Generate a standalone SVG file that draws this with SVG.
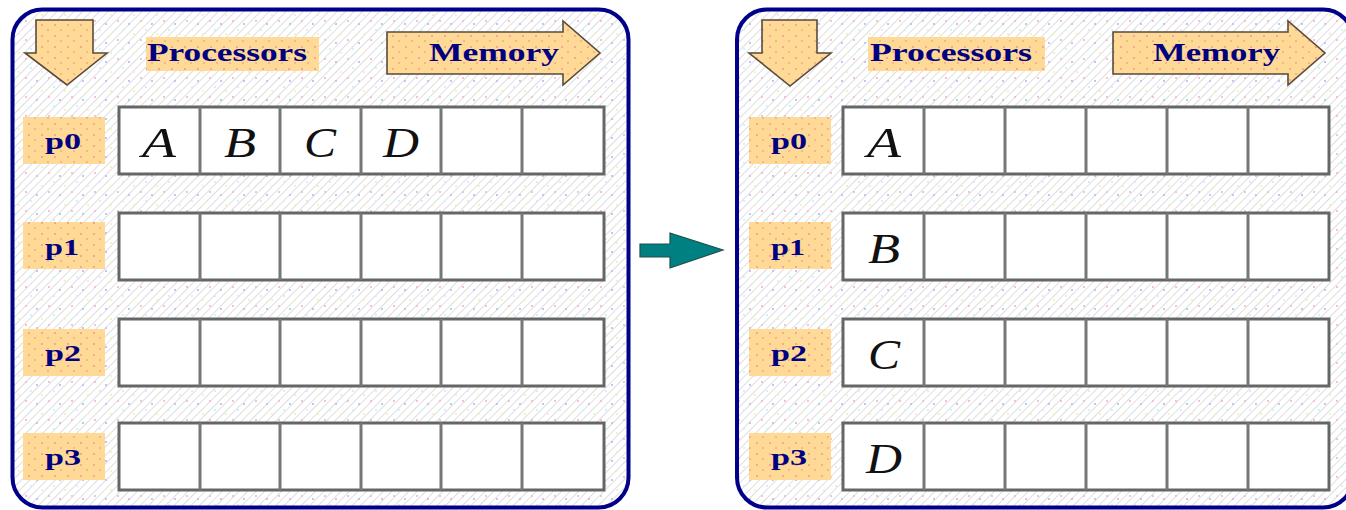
<svg xmlns="http://www.w3.org/2000/svg" width="1346" height="510" viewBox="0 0 1346 510">
<defs>
<pattern id="hatch" width="6" height="6" patternUnits="userSpaceOnUse" patternTransform="rotate(45)">
<rect width="6" height="6" fill="#ffffff"/>
<line x1="0" y1="0" x2="0" y2="6" stroke="#d4d4d4" stroke-width="1.5"/>
</pattern>
<pattern id="dots" width="23" height="19" patternUnits="userSpaceOnUse">
<rect x="2" y="1" width="2" height="2" fill="#f8c0d0"/>
<rect x="13" y="4" width="2" height="2" fill="#c4c4f8"/>
<rect x="7" y="10" width="2" height="2" fill="#ccf6f6"/>
<rect x="18" y="14" width="2" height="2" fill="#f6f2c0"/>
</pattern>
<pattern id="orange" width="13" height="11" patternUnits="userSpaceOnUse">
<rect width="13" height="11" fill="#ffd996"/>
<rect x="2" y="2" width="2" height="2" fill="#f8a892"/>
<rect x="8" y="7" width="2" height="2" fill="#f8b48a"/>
</pattern>
<style>
.panel{stroke:#00008a;stroke-width:4}
.orng{fill:url(#orange)}
.arrow{fill:url(#orange);stroke:#5a4a3c;stroke-width:1.6}
.lbl{font-family:"Liberation Serif",serif;font-weight:bold;font-size:25px;fill:#000080}
.plbl{font-family:"Liberation Serif",serif;font-weight:bold;font-size:24px;fill:#000080}
.cell{fill:#ffffff;stroke:#666666;stroke-width:3}
.div{stroke:#777777;stroke-width:3}
.let{font-family:"Liberation Serif",serif;font-style:italic;font-size:42px;fill:#111111;text-anchor:middle}
</style>
</defs>

<g id="panel-left">
<rect x="12.5" y="9.5" width="616" height="498" rx="30" fill="url(#hatch)"/>
<rect x="12.5" y="9.5" width="616" height="498" rx="30" fill="url(#dots)" class="panel"/>
</g>
<g id="panel-right">
<rect x="737" y="9.5" width="616" height="498" rx="30" fill="url(#hatch)"/>
<rect x="737" y="9.5" width="616" height="498" rx="30" fill="url(#dots)" class="panel"/>
</g>

<!-- Left panel contents -->
<g id="left-down-arrow"><path class="arrow" d="M36,20 H93 V53 H107 L67,85 L25,53 H36 Z"/></g>
<g id="left-processors"><rect class="orng" x="146" y="37" width="173" height="34"/><text class="lbl" x="147" y="61" textLength="160" lengthAdjust="spacingAndGlyphs">Processors</text></g>
<g id="left-memory"><path class="arrow" d="M387,32 H563 V21 L600,53 L563,85 V74 H387 Z"/><text class="lbl" x="429" y="61" textLength="130" lengthAdjust="spacingAndGlyphs">Memory</text></g>

<g id="left-p0"><rect class="orng" x="23" y="117" width="82" height="47"/><text class="plbl" x="45" y="149" textLength="36" lengthAdjust="spacingAndGlyphs">p0</text></g>
<g id="left-p1"><rect class="orng" x="23" y="222" width="82" height="47"/><text class="plbl" x="45" y="255" textLength="34" lengthAdjust="spacingAndGlyphs">p1</text></g>
<g id="left-p2"><rect class="orng" x="23" y="329" width="82" height="47"/><text class="plbl" x="45" y="361" textLength="36" lengthAdjust="spacingAndGlyphs">p2</text></g>
<g id="left-p3"><rect class="orng" x="23" y="433" width="82" height="47"/><text class="plbl" x="45" y="465" textLength="36" lengthAdjust="spacingAndGlyphs">p3</text></g>

<g id="left-row0"><rect class="cell" x="119" y="107" width="485" height="67"/><path class="div" d="M200,107V174M280,107V174M361,107V174M441,107V174M522,107V174"/>
<text class="let" x="159" y="157" textLength="34" lengthAdjust="spacingAndGlyphs">A</text>
<text class="let" x="240" y="157" textLength="32" lengthAdjust="spacingAndGlyphs">B</text>
<text class="let" x="320" y="157" textLength="32" lengthAdjust="spacingAndGlyphs">C</text>
<text class="let" x="401" y="157" textLength="36" lengthAdjust="spacingAndGlyphs">D</text></g>
<g id="left-row1"><rect class="cell" x="119" y="213" width="485" height="67"/><path class="div" d="M200,213V280M280,213V280M361,213V280M441,213V280M522,213V280"/></g>
<g id="left-row2"><rect class="cell" x="119" y="319" width="485" height="67"/><path class="div" d="M200,319V386M280,319V386M361,319V386M441,319V386M522,319V386"/></g>
<g id="left-row3"><rect class="cell" x="119" y="423" width="485" height="67"/><path class="div" d="M200,423V490M280,423V490M361,423V490M441,423V490M522,423V490"/></g>

<!-- Right panel contents -->
<g id="right-down-arrow"><path class="arrow" d="M762,20 H817 V53 H831 L790,86 L749,53 H762 Z"/></g>
<g id="right-processors"><rect class="orng" x="868" y="37" width="177" height="34"/><text class="lbl" x="870" y="61" textLength="162" lengthAdjust="spacingAndGlyphs">Processors</text></g>
<g id="right-memory"><path class="arrow" d="M1113,32 H1288 V21 L1325,53 L1288,85 V74 H1113 Z"/><text class="lbl" x="1153" y="61" textLength="127" lengthAdjust="spacingAndGlyphs">Memory</text></g>

<g id="right-p0"><rect class="orng" x="749" y="117" width="82" height="47"/><text class="plbl" x="771" y="149" textLength="36" lengthAdjust="spacingAndGlyphs">p0</text></g>
<g id="right-p1"><rect class="orng" x="749" y="222" width="82" height="47"/><text class="plbl" x="771" y="255" textLength="34" lengthAdjust="spacingAndGlyphs">p1</text></g>
<g id="right-p2"><rect class="orng" x="749" y="329" width="82" height="47"/><text class="plbl" x="771" y="361" textLength="36" lengthAdjust="spacingAndGlyphs">p2</text></g>
<g id="right-p3"><rect class="orng" x="749" y="433" width="82" height="47"/><text class="plbl" x="771" y="465" textLength="36" lengthAdjust="spacingAndGlyphs">p3</text></g>

<g id="right-row0"><rect class="cell" x="843" y="107" width="486" height="67"/><path class="div" d="M924,107V174M1005,107V174M1086,107V174M1167,107V174M1248,107V174"/>
<text class="let" x="884" y="157" textLength="34" lengthAdjust="spacingAndGlyphs">A</text></g>
<g id="right-row1"><rect class="cell" x="843" y="213" width="486" height="67"/><path class="div" d="M924,213V280M1005,213V280M1086,213V280M1167,213V280M1248,213V280"/>
<text class="let" x="884" y="263" textLength="32" lengthAdjust="spacingAndGlyphs">B</text></g>
<g id="right-row2"><rect class="cell" x="843" y="319" width="486" height="67"/><path class="div" d="M924,319V386M1005,319V386M1086,319V386M1167,319V386M1248,319V386"/>
<text class="let" x="884" y="369" textLength="32" lengthAdjust="spacingAndGlyphs">C</text></g>
<g id="right-row3"><rect class="cell" x="843" y="423" width="486" height="67"/><path class="div" d="M924,423V490M1005,423V490M1086,423V490M1167,423V490M1248,423V490"/>
<text class="let" x="884" y="473" textLength="36" lengthAdjust="spacingAndGlyphs">D</text></g>

<g id="connectors">
<path d="M640,244 H670 V233 L723,250 L670,268 V257 H640 Z" fill="#008080" stroke="#1f4f4f" stroke-width="1.2"/>
</g>
</svg>
